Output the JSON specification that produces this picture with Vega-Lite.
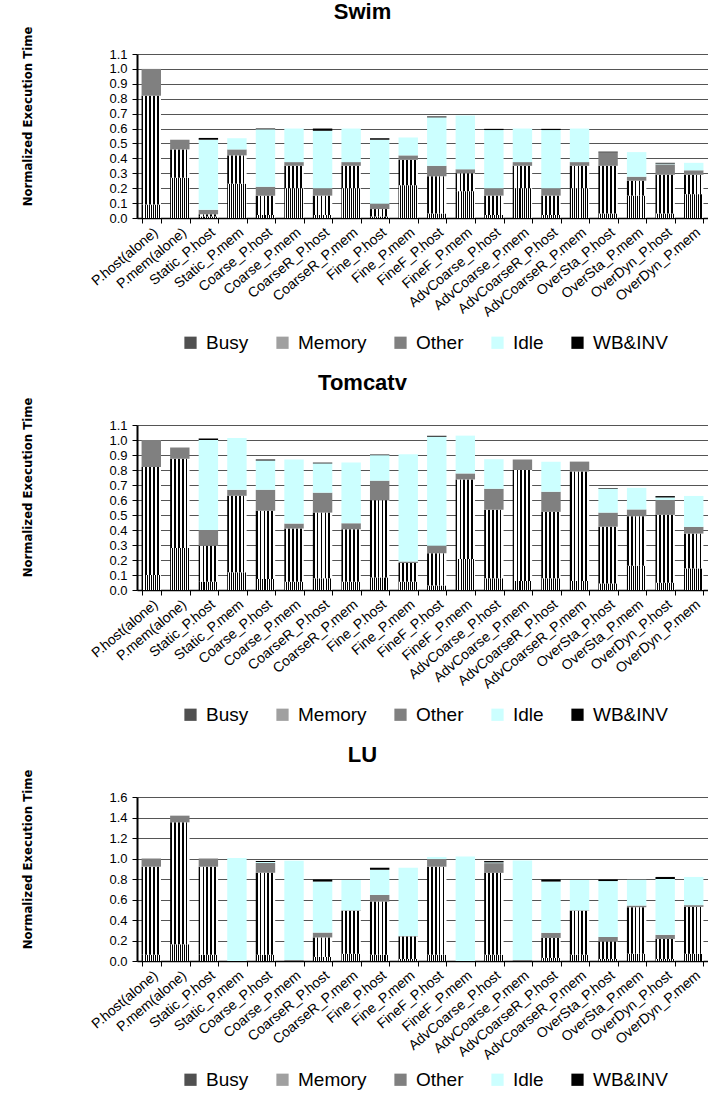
{
  "$schema": "https://vega.github.io/schema/vega-lite/v6.json",
  "padding": {"left": 20, "top": 1, "right": 0, "bottom": 0},
  "config": {
    "view": {"stroke": null},
    "font": "Liberation Sans",
    "concat": {"spacing": 19},
    "axisY": {"domainColor": "#000", "domainWidth": 2, "tickColor": "#000", "tickSize": 5, "labelFontSize": 13, "labelColor": "#000", "labelPadding": 5, "gridColor": "#555", "gridWidth": 1, "titleFont": "'DejaVu Sans Condensed', 'Liberation Sans', sans-serif", "titleFontWeight": "bold", "titleFontSize": 13, "titleColor": "#000"},
    "axisX": {"labelAngle": -40, "labelFontSize": 14, "labelColor": "#000", "tickBand": "extent", "tickColor": "#000", "tickSize": 5, "domainColor": "#000", "domainWidth": 1.5, "labelPadding": 2, "grid": false},
    "title": {"fontSize": 22, "fontWeight": "bold", "font": "Liberation Sans", "color": "#000", "anchor": "middle", "offset": 2, "dx": -60}
  },
  "datasets": {
    "d": [
      {"b": "Swim", "c": "P.host(alone)", "Busy": 0.09, "Memory": 0.73, "Other": 0.18, "Idle": 0, "WB&INV": 0},
      {"b": "Swim", "c": "P.mem(alone)", "Busy": 0.27, "Memory": 0.19, "Other": 0.065, "Idle": 0, "WB&INV": 0},
      {"b": "Swim", "c": "Static_P.host", "Busy": 0.01, "Memory": 0.015, "Other": 0.03, "Idle": 0.47, "WB&INV": 0.012},
      {"b": "Swim", "c": "Static_P.mem", "Busy": 0.23, "Memory": 0.19, "Other": 0.04, "Idle": 0.075, "WB&INV": 0},
      {"b": "Swim", "c": "Coarse_P.host", "Busy": 0.02, "Memory": 0.13, "Other": 0.06, "Idle": 0.385, "WB&INV": 0.005},
      {"b": "Swim", "c": "Coarse_P.mem", "Busy": 0.2, "Memory": 0.15, "Other": 0.025, "Idle": 0.225, "WB&INV": 0},
      {"b": "Swim", "c": "CoarseR_P.host", "Busy": 0.02, "Memory": 0.13, "Other": 0.05, "Idle": 0.385, "WB&INV": 0.015},
      {"b": "Swim", "c": "CoarseR_P.mem", "Busy": 0.2, "Memory": 0.15, "Other": 0.025, "Idle": 0.225, "WB&INV": 0},
      {"b": "Swim", "c": "Fine_P.host", "Busy": 0.01, "Memory": 0.05, "Other": 0.035, "Idle": 0.43, "WB&INV": 0.01},
      {"b": "Swim", "c": "Fine_P.mem", "Busy": 0.22, "Memory": 0.17, "Other": 0.03, "Idle": 0.12, "WB&INV": 0},
      {"b": "Swim", "c": "FineF_P.host", "Busy": 0.03, "Memory": 0.25, "Other": 0.07, "Idle": 0.325, "WB&INV": 0.006},
      {"b": "Swim", "c": "FineF_P.mem", "Busy": 0.18, "Memory": 0.12, "Other": 0.027, "Idle": 0.36, "WB&INV": 0},
      {"b": "Swim", "c": "AdvCoarse_P.host", "Busy": 0.02, "Memory": 0.13, "Other": 0.05, "Idle": 0.39, "WB&INV": 0.008},
      {"b": "Swim", "c": "AdvCoarse_P.mem", "Busy": 0.2, "Memory": 0.15, "Other": 0.025, "Idle": 0.225, "WB&INV": 0},
      {"b": "Swim", "c": "AdvCoarseR_P.host", "Busy": 0.02, "Memory": 0.13, "Other": 0.05, "Idle": 0.39, "WB&INV": 0.008},
      {"b": "Swim", "c": "AdvCoarseR_P.mem", "Busy": 0.2, "Memory": 0.15, "Other": 0.025, "Idle": 0.225, "WB&INV": 0},
      {"b": "Swim", "c": "OverSta_P.host", "Busy": 0.03, "Memory": 0.32, "Other": 0.09, "Idle": 0, "WB&INV": 0.005},
      {"b": "Swim", "c": "OverSta_P.mem", "Busy": 0.15, "Memory": 0.1, "Other": 0.027, "Idle": 0.165, "WB&INV": 0},
      {"b": "Swim", "c": "OverDyn_P.host", "Busy": 0.03, "Memory": 0.26, "Other": 0.07, "Idle": 0.005, "WB&INV": 0.005},
      {"b": "Swim", "c": "OverDyn_P.mem", "Busy": 0.16, "Memory": 0.13, "Other": 0.03, "Idle": 0.05, "WB&INV": 0},
      {"b": "Tomcatv", "c": "P.host(alone)", "Busy": 0.1, "Memory": 0.72, "Other": 0.18, "Idle": 0, "WB&INV": 0},
      {"b": "Tomcatv", "c": "P.mem(alone)", "Busy": 0.28, "Memory": 0.595, "Other": 0.075, "Idle": 0, "WB&INV": 0},
      {"b": "Tomcatv", "c": "Static_P.host", "Busy": 0.055, "Memory": 0.24, "Other": 0.105, "Idle": 0.6, "WB&INV": 0.01},
      {"b": "Tomcatv", "c": "Static_P.mem", "Busy": 0.118, "Memory": 0.51, "Other": 0.04, "Idle": 0.345, "WB&INV": 0},
      {"b": "Tomcatv", "c": "Coarse_P.host", "Busy": 0.073, "Memory": 0.456, "Other": 0.14, "Idle": 0.195, "WB&INV": 0.006},
      {"b": "Tomcatv", "c": "Coarse_P.mem", "Busy": 0.055, "Memory": 0.355, "Other": 0.033, "Idle": 0.427, "WB&INV": 0},
      {"b": "Tomcatv", "c": "CoarseR_P.host", "Busy": 0.078, "Memory": 0.438, "Other": 0.133, "Idle": 0.195, "WB&INV": 0.005},
      {"b": "Tomcatv", "c": "CoarseR_P.mem", "Busy": 0.055, "Memory": 0.35, "Other": 0.04, "Idle": 0.405, "WB&INV": 0},
      {"b": "Tomcatv", "c": "Fine_P.host", "Busy": 0.084, "Memory": 0.515, "Other": 0.13, "Idle": 0.17, "WB&INV": 0.004},
      {"b": "Tomcatv", "c": "Fine_P.mem", "Busy": 0.055, "Memory": 0.125, "Other": 0.01, "Idle": 0.715, "WB&INV": 0},
      {"b": "Tomcatv", "c": "FineF_P.host", "Busy": 0.03, "Memory": 0.215, "Other": 0.05, "Idle": 0.727, "WB&INV": 0.006},
      {"b": "Tomcatv", "c": "FineF_P.mem", "Busy": 0.207, "Memory": 0.53, "Other": 0.04, "Idle": 0.252, "WB&INV": 0},
      {"b": "Tomcatv", "c": "AdvCoarse_P.host", "Busy": 0.078, "Memory": 0.457, "Other": 0.14, "Idle": 0.197, "WB&INV": 0},
      {"b": "Tomcatv", "c": "AdvCoarse_P.mem", "Busy": 0.06, "Memory": 0.74, "Other": 0.07, "Idle": 0, "WB&INV": 0},
      {"b": "Tomcatv", "c": "AdvCoarseR_P.host", "Busy": 0.078, "Memory": 0.443, "Other": 0.134, "Idle": 0.2, "WB&INV": 0},
      {"b": "Tomcatv", "c": "AdvCoarseR_P.mem", "Busy": 0.06, "Memory": 0.73, "Other": 0.066, "Idle": 0, "WB&INV": 0},
      {"b": "Tomcatv", "c": "OverSta_P.host", "Busy": 0.044, "Memory": 0.378, "Other": 0.094, "Idle": 0.16, "WB&INV": 0.004},
      {"b": "Tomcatv", "c": "OverSta_P.mem", "Busy": 0.162, "Memory": 0.33, "Other": 0.045, "Idle": 0.144, "WB&INV": 0},
      {"b": "Tomcatv", "c": "OverDyn_P.host", "Busy": 0.049, "Memory": 0.452, "Other": 0.1, "Idle": 0.016, "WB&INV": 0.009},
      {"b": "Tomcatv", "c": "OverDyn_P.mem", "Busy": 0.144, "Memory": 0.232, "Other": 0.045, "Idle": 0.206, "WB&INV": 0},
      {"b": "LU", "c": "P.host(alone)", "Busy": 0.06, "Memory": 0.86, "Other": 0.08, "Idle": 0, "WB&INV": 0},
      {"b": "LU", "c": "P.mem(alone)", "Busy": 0.163, "Memory": 1.19, "Other": 0.065, "Idle": 0, "WB&INV": 0},
      {"b": "LU", "c": "Static_P.host", "Busy": 0.06, "Memory": 0.86, "Other": 0.08, "Idle": 0, "WB&INV": 0},
      {"b": "LU", "c": "Static_P.mem", "Busy": 0, "Memory": 0, "Other": 0, "Idle": 1.005, "WB&INV": 0},
      {"b": "LU", "c": "Coarse_P.host", "Busy": 0.06, "Memory": 0.8, "Other": 0.095, "Idle": 0.01, "WB&INV": 0.01},
      {"b": "LU", "c": "Coarse_P.mem", "Busy": 0, "Memory": 0, "Other": 0.01, "Idle": 0.967, "WB&INV": 0},
      {"b": "LU", "c": "CoarseR_P.host", "Busy": 0.04, "Memory": 0.19, "Other": 0.047, "Idle": 0.498, "WB&INV": 0.02},
      {"b": "LU", "c": "CoarseR_P.mem", "Busy": 0.07, "Memory": 0.42, "Other": 0.005, "Idle": 0.295, "WB&INV": 0},
      {"b": "LU", "c": "Fine_P.host", "Busy": 0.06, "Memory": 0.52, "Other": 0.065, "Idle": 0.245, "WB&INV": 0.02},
      {"b": "LU", "c": "Fine_P.mem", "Busy": 0.02, "Memory": 0.22, "Other": 0.005, "Idle": 0.665, "WB&INV": 0},
      {"b": "LU", "c": "FineF_P.host", "Busy": 0.06, "Memory": 0.86, "Other": 0.075, "Idle": 0.02, "WB&INV": 0},
      {"b": "LU", "c": "FineF_P.mem", "Busy": 0, "Memory": 0, "Other": 0, "Idle": 1.02, "WB&INV": 0},
      {"b": "LU", "c": "AdvCoarse_P.host", "Busy": 0.06, "Memory": 0.8, "Other": 0.095, "Idle": 0.007, "WB&INV": 0.013},
      {"b": "LU", "c": "AdvCoarse_P.mem", "Busy": 0, "Memory": 0, "Other": 0.01, "Idle": 0.97, "WB&INV": 0},
      {"b": "LU", "c": "AdvCoarseR_P.host", "Busy": 0.03, "Memory": 0.195, "Other": 0.05, "Idle": 0.5, "WB&INV": 0.02},
      {"b": "LU", "c": "AdvCoarseR_P.mem", "Busy": 0.06, "Memory": 0.43, "Other": 0.005, "Idle": 0.295, "WB&INV": 0},
      {"b": "LU", "c": "OverSta_P.host", "Busy": 0.02, "Memory": 0.17, "Other": 0.045, "Idle": 0.545, "WB&INV": 0.015},
      {"b": "LU", "c": "OverSta_P.mem", "Busy": 0.07, "Memory": 0.455, "Other": 0.016, "Idle": 0.251, "WB&INV": 0},
      {"b": "LU", "c": "OverDyn_P.host", "Busy": 0.02, "Memory": 0.195, "Other": 0.04, "Idle": 0.545, "WB&INV": 0.02},
      {"b": "LU", "c": "OverDyn_P.mem", "Busy": 0.07, "Memory": 0.458, "Other": 0.017, "Idle": 0.275, "WB&INV": 0}
    ]
  },
  "data": {"name": "d"},
  "transform": [
    {"fold": ["Busy", "Memory", "Other", "Idle", "WB&INV"], "as": ["comp", "v"]},
    {"window": [{"op": "row_number", "as": "k"}], "groupby": ["b", "c"]}
  ],
  "resolve": {"scale": {"fill": "independent", "x": "independent", "y": "independent"}},
  "vconcat": [
    {
      "title": {"text": "Swim"},
      "width": 571, "height": 164,
      "transform": [{"filter": "datum.b === 'Swim'"}],
      "mark": {"type": "bar"},
      "encoding": {
        "x": {"field": "c", "type": "nominal", "sort": null, "title": null, "scale": {"paddingInner": 0.32, "paddingOuter": 0.16}},
        "y": {"field": "v", "type": "quantitative", "stack": "zero", "title": "Normalized Execution Time", "scale": {"domain": [0, 1.1], "nice": false}, "axis": {"values": [0, 0.1, 0.2, 0.3, 0.4, 0.5, 0.6, 0.7, 0.8, 0.9, 1.0, 1.1], "format": ".1f", "titleX": -110, "titleY": 62, "titleAngle": -90, "titleBaseline": "middle", "titleAlign": "center"}},
        "order": {"field": "k", "type": "quantitative"},
        "fill": {
          "field": "comp", "type": "nominal",
          "scale": {"domain": ["Busy", "Memory", "Other", "Idle", "WB&INV"], "range": ["#505050", "#a0a0a0", "#808080", "#ccffff", "#000000"]},
          "condition": [
            {"test": "datum.comp === 'Busy'", "value": {"gradient": "linear", "x1": 0, "y1": 0, "x2": 1, "y2": 0, "stops": [{"offset": 0, "color": "#000"}, {"offset": 0.05, "color": "#000"}, {"offset": 0.05, "color": "#fff"}, {"offset": 0.1, "color": "#fff"}, {"offset": 0.1, "color": "#000"}, {"offset": 0.15, "color": "#000"}, {"offset": 0.15, "color": "#fff"}, {"offset": 0.2, "color": "#fff"}, {"offset": 0.2, "color": "#000"}, {"offset": 0.25, "color": "#000"}, {"offset": 0.25, "color": "#fff"}, {"offset": 0.3, "color": "#fff"}, {"offset": 0.3, "color": "#000"}, {"offset": 0.35, "color": "#000"}, {"offset": 0.35, "color": "#fff"}, {"offset": 0.4, "color": "#fff"}, {"offset": 0.4, "color": "#000"}, {"offset": 0.45, "color": "#000"}, {"offset": 0.45, "color": "#fff"}, {"offset": 0.5, "color": "#fff"}, {"offset": 0.5, "color": "#000"}, {"offset": 0.55, "color": "#000"}, {"offset": 0.55, "color": "#fff"}, {"offset": 0.6, "color": "#fff"}, {"offset": 0.6, "color": "#000"}, {"offset": 0.65, "color": "#000"}, {"offset": 0.65, "color": "#fff"}, {"offset": 0.7, "color": "#fff"}, {"offset": 0.7, "color": "#000"}, {"offset": 0.75, "color": "#000"}, {"offset": 0.75, "color": "#fff"}, {"offset": 0.8, "color": "#fff"}, {"offset": 0.8, "color": "#000"}, {"offset": 0.85, "color": "#000"}, {"offset": 0.85, "color": "#fff"}, {"offset": 0.9, "color": "#fff"}, {"offset": 0.9, "color": "#000"}, {"offset": 0.95, "color": "#000"}, {"offset": 0.95, "color": "#fff"}, {"offset": 1, "color": "#fff"}]}},
            {"test": "datum.comp === 'Memory'", "value": {"gradient": "linear", "x1": 0, "y1": 0, "x2": 1, "y2": 0, "stops": [{"offset": 0, "color": "#000"}, {"offset": 0.09, "color": "#000"}, {"offset": 0.09, "color": "#fff"}, {"offset": 0.2, "color": "#fff"}, {"offset": 0.2, "color": "#000"}, {"offset": 0.29, "color": "#000"}, {"offset": 0.29, "color": "#fff"}, {"offset": 0.4, "color": "#fff"}, {"offset": 0.4, "color": "#000"}, {"offset": 0.49, "color": "#000"}, {"offset": 0.49, "color": "#fff"}, {"offset": 0.6, "color": "#fff"}, {"offset": 0.6, "color": "#000"}, {"offset": 0.69, "color": "#000"}, {"offset": 0.69, "color": "#fff"}, {"offset": 0.8, "color": "#fff"}, {"offset": 0.8, "color": "#000"}, {"offset": 0.89, "color": "#000"}, {"offset": 0.89, "color": "#fff"}, {"offset": 1, "color": "#fff"}]}}
          ],
          "legend": {"orient": "none", "legendX": 44, "legendY": 279, "direction": "horizontal", "title": null, "labelFontSize": 19, "labelColor": "#000", "symbolType": "square", "symbolSize": 150, "columnPadding": 24, "labelOffset": 6, "symbolStrokeWidth": 0}
        }
      }
    },
    {
      "title": {"text": "Tomcatv"},
      "width": 571, "height": 165,
      "transform": [{"filter": "datum.b === 'Tomcatv'"}],
      "mark": {"type": "bar"},
      "encoding": {
        "x": {"field": "c", "type": "nominal", "sort": null, "title": null, "scale": {"paddingInner": 0.32, "paddingOuter": 0.16}},
        "y": {"field": "v", "type": "quantitative", "stack": "zero", "title": "Normalized Execution Time", "scale": {"domain": [0, 1.1], "nice": false}, "axis": {"values": [0, 0.1, 0.2, 0.3, 0.4, 0.5, 0.6, 0.7, 0.8, 0.9, 1.0, 1.1], "format": ".1f", "titleX": -110, "titleY": 62, "titleAngle": -90, "titleBaseline": "middle", "titleAlign": "center"}},
        "order": {"field": "k", "type": "quantitative"},
        "fill": {
          "field": "comp", "type": "nominal",
          "scale": {"domain": ["Busy", "Memory", "Other", "Idle", "WB&INV"], "range": ["#505050", "#a0a0a0", "#808080", "#ccffff", "#000000"]},
          "condition": [
            {"test": "datum.comp === 'Busy'", "value": {"gradient": "linear", "x1": 0, "y1": 0, "x2": 1, "y2": 0, "stops": [{"offset": 0, "color": "#000"}, {"offset": 0.05, "color": "#000"}, {"offset": 0.05, "color": "#fff"}, {"offset": 0.1, "color": "#fff"}, {"offset": 0.1, "color": "#000"}, {"offset": 0.15, "color": "#000"}, {"offset": 0.15, "color": "#fff"}, {"offset": 0.2, "color": "#fff"}, {"offset": 0.2, "color": "#000"}, {"offset": 0.25, "color": "#000"}, {"offset": 0.25, "color": "#fff"}, {"offset": 0.3, "color": "#fff"}, {"offset": 0.3, "color": "#000"}, {"offset": 0.35, "color": "#000"}, {"offset": 0.35, "color": "#fff"}, {"offset": 0.4, "color": "#fff"}, {"offset": 0.4, "color": "#000"}, {"offset": 0.45, "color": "#000"}, {"offset": 0.45, "color": "#fff"}, {"offset": 0.5, "color": "#fff"}, {"offset": 0.5, "color": "#000"}, {"offset": 0.55, "color": "#000"}, {"offset": 0.55, "color": "#fff"}, {"offset": 0.6, "color": "#fff"}, {"offset": 0.6, "color": "#000"}, {"offset": 0.65, "color": "#000"}, {"offset": 0.65, "color": "#fff"}, {"offset": 0.7, "color": "#fff"}, {"offset": 0.7, "color": "#000"}, {"offset": 0.75, "color": "#000"}, {"offset": 0.75, "color": "#fff"}, {"offset": 0.8, "color": "#fff"}, {"offset": 0.8, "color": "#000"}, {"offset": 0.85, "color": "#000"}, {"offset": 0.85, "color": "#fff"}, {"offset": 0.9, "color": "#fff"}, {"offset": 0.9, "color": "#000"}, {"offset": 0.95, "color": "#000"}, {"offset": 0.95, "color": "#fff"}, {"offset": 1, "color": "#fff"}]}},
            {"test": "datum.comp === 'Memory'", "value": {"gradient": "linear", "x1": 0, "y1": 0, "x2": 1, "y2": 0, "stops": [{"offset": 0, "color": "#000"}, {"offset": 0.09, "color": "#000"}, {"offset": 0.09, "color": "#fff"}, {"offset": 0.2, "color": "#fff"}, {"offset": 0.2, "color": "#000"}, {"offset": 0.29, "color": "#000"}, {"offset": 0.29, "color": "#fff"}, {"offset": 0.4, "color": "#fff"}, {"offset": 0.4, "color": "#000"}, {"offset": 0.49, "color": "#000"}, {"offset": 0.49, "color": "#fff"}, {"offset": 0.6, "color": "#fff"}, {"offset": 0.6, "color": "#000"}, {"offset": 0.69, "color": "#000"}, {"offset": 0.69, "color": "#fff"}, {"offset": 0.8, "color": "#fff"}, {"offset": 0.8, "color": "#000"}, {"offset": 0.89, "color": "#000"}, {"offset": 0.89, "color": "#fff"}, {"offset": 1, "color": "#fff"}]}}
          ],
          "legend": {"orient": "none", "legendX": 44, "legendY": 280, "direction": "horizontal", "title": null, "labelFontSize": 19, "labelColor": "#000", "symbolType": "square", "symbolSize": 150, "columnPadding": 24, "labelOffset": 6, "symbolStrokeWidth": 0}
        }
      }
    },
    {
      "title": {"text": "LU"},
      "width": 571, "height": 164,
      "transform": [{"filter": "datum.b === 'LU'"}],
      "mark": {"type": "bar"},
      "encoding": {
        "x": {"field": "c", "type": "nominal", "sort": null, "title": null, "scale": {"paddingInner": 0.32, "paddingOuter": 0.16}},
        "y": {"field": "v", "type": "quantitative", "stack": "zero", "title": "Normalized Execution Time", "scale": {"domain": [0, 1.6], "nice": false}, "axis": {"values": [0, 0.2, 0.4, 0.6, 0.8, 1.0, 1.2, 1.4, 1.6], "format": ".1f", "titleX": -110, "titleY": 62, "titleAngle": -90, "titleBaseline": "middle", "titleAlign": "center"}},
        "order": {"field": "k", "type": "quantitative"},
        "fill": {
          "field": "comp", "type": "nominal",
          "scale": {"domain": ["Busy", "Memory", "Other", "Idle", "WB&INV"], "range": ["#505050", "#a0a0a0", "#808080", "#ccffff", "#000000"]},
          "condition": [
            {"test": "datum.comp === 'Busy'", "value": {"gradient": "linear", "x1": 0, "y1": 0, "x2": 1, "y2": 0, "stops": [{"offset": 0, "color": "#000"}, {"offset": 0.05, "color": "#000"}, {"offset": 0.05, "color": "#fff"}, {"offset": 0.1, "color": "#fff"}, {"offset": 0.1, "color": "#000"}, {"offset": 0.15, "color": "#000"}, {"offset": 0.15, "color": "#fff"}, {"offset": 0.2, "color": "#fff"}, {"offset": 0.2, "color": "#000"}, {"offset": 0.25, "color": "#000"}, {"offset": 0.25, "color": "#fff"}, {"offset": 0.3, "color": "#fff"}, {"offset": 0.3, "color": "#000"}, {"offset": 0.35, "color": "#000"}, {"offset": 0.35, "color": "#fff"}, {"offset": 0.4, "color": "#fff"}, {"offset": 0.4, "color": "#000"}, {"offset": 0.45, "color": "#000"}, {"offset": 0.45, "color": "#fff"}, {"offset": 0.5, "color": "#fff"}, {"offset": 0.5, "color": "#000"}, {"offset": 0.55, "color": "#000"}, {"offset": 0.55, "color": "#fff"}, {"offset": 0.6, "color": "#fff"}, {"offset": 0.6, "color": "#000"}, {"offset": 0.65, "color": "#000"}, {"offset": 0.65, "color": "#fff"}, {"offset": 0.7, "color": "#fff"}, {"offset": 0.7, "color": "#000"}, {"offset": 0.75, "color": "#000"}, {"offset": 0.75, "color": "#fff"}, {"offset": 0.8, "color": "#fff"}, {"offset": 0.8, "color": "#000"}, {"offset": 0.85, "color": "#000"}, {"offset": 0.85, "color": "#fff"}, {"offset": 0.9, "color": "#fff"}, {"offset": 0.9, "color": "#000"}, {"offset": 0.95, "color": "#000"}, {"offset": 0.95, "color": "#fff"}, {"offset": 1, "color": "#fff"}]}},
            {"test": "datum.comp === 'Memory'", "value": {"gradient": "linear", "x1": 0, "y1": 0, "x2": 1, "y2": 0, "stops": [{"offset": 0, "color": "#000"}, {"offset": 0.09, "color": "#000"}, {"offset": 0.09, "color": "#fff"}, {"offset": 0.2, "color": "#fff"}, {"offset": 0.2, "color": "#000"}, {"offset": 0.29, "color": "#000"}, {"offset": 0.29, "color": "#fff"}, {"offset": 0.4, "color": "#fff"}, {"offset": 0.4, "color": "#000"}, {"offset": 0.49, "color": "#000"}, {"offset": 0.49, "color": "#fff"}, {"offset": 0.6, "color": "#fff"}, {"offset": 0.6, "color": "#000"}, {"offset": 0.69, "color": "#000"}, {"offset": 0.69, "color": "#fff"}, {"offset": 0.8, "color": "#fff"}, {"offset": 0.8, "color": "#000"}, {"offset": 0.89, "color": "#000"}, {"offset": 0.89, "color": "#fff"}, {"offset": 1, "color": "#fff"}]}}
          ],
          "legend": {"orient": "none", "legendX": 44, "legendY": 273, "direction": "horizontal", "title": null, "labelFontSize": 19, "labelColor": "#000", "symbolType": "square", "symbolSize": 150, "columnPadding": 24, "labelOffset": 6, "symbolStrokeWidth": 0}
        }
      }
    }
  ]
}
